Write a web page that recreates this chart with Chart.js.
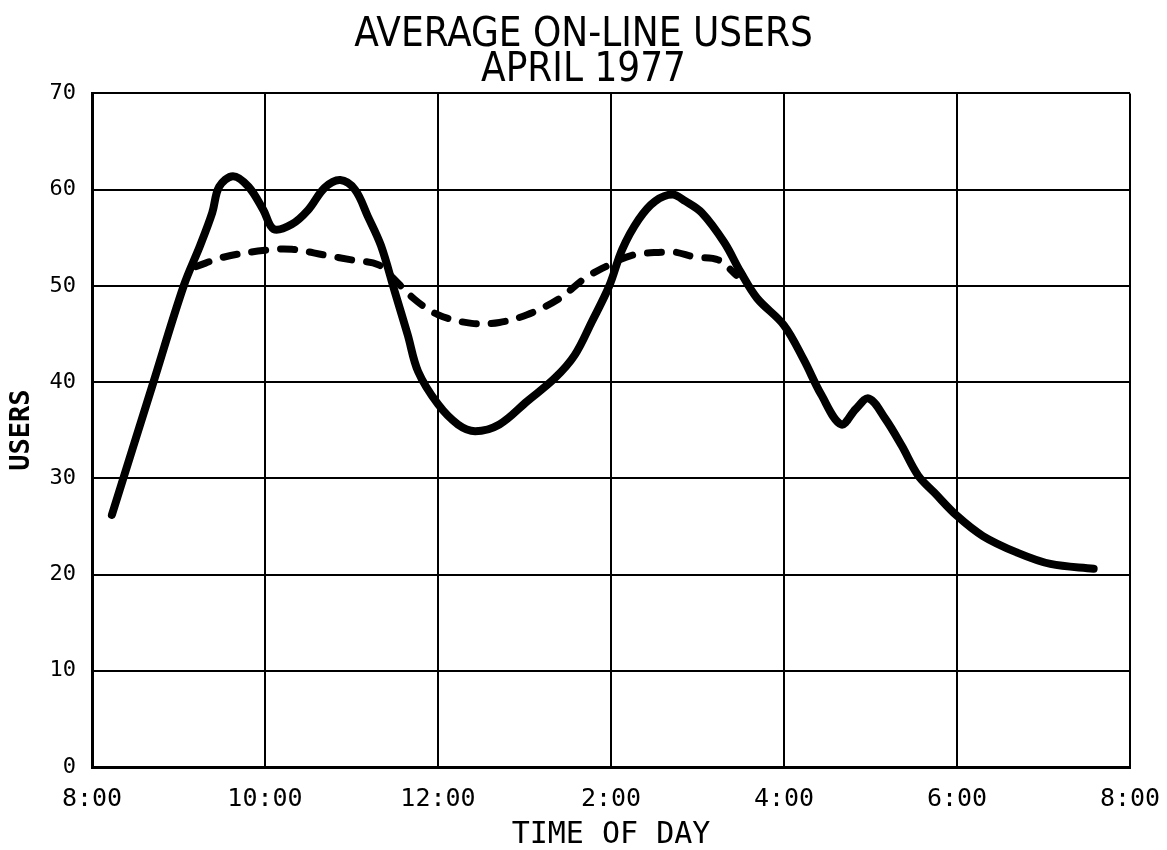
<!DOCTYPE html>
<html>
<head>
<meta charset="utf-8">
<title>Average On-Line Users</title>
<script src="https://cdn.jsdelivr.net/npm/chart.js@4.4.0/dist/chart.umd.min.js"></script>
<style>
  html, body { margin: 0; padding: 0; background: #fff; }
  #wrap { width: 1167px; height: 850px; }
</style>
</head>
<body>
<div id="wrap"><canvas id="grafico"></canvas></div>
<script>
// hours of the day, 8 = 8:00 am, 20 = 8:00 pm
const horasSolido = [8.23, 8.70, 9.06, 9.25, 9.39, 9.47, 9.63, 9.81, 9.98, 10.10, 10.31, 10.50, 10.69, 10.87, 11.04, 11.19, 11.34, 11.50, 11.65, 11.77, 12.0, 12.23, 12.43, 12.71, 13.03, 13.35, 13.58, 13.78, 13.98, 14.13, 14.32, 14.51, 14.71, 14.86, 15.05, 15.31, 15.50, 15.69, 16.0, 16.23, 16.43, 16.66, 16.83, 16.98, 17.17, 17.36, 17.55, 17.74, 18.0, 18.3, 18.69, 19.08, 19.58];
const usuariosSolido = [26.2, 39.7, 50.0, 54.2, 57.6, 60.3, 61.4, 60.3, 57.9, 55.9, 56.4, 57.9, 60.2, 61.0, 60.0, 57.2, 54.2, 49.4, 44.9, 41.1, 37.7, 35.6, 34.9, 35.6, 38.0, 40.4, 42.8, 46.3, 50.0, 53.8, 56.9, 58.8, 59.5, 58.8, 57.6, 54.5, 51.4, 48.7, 45.9, 42.3, 38.7, 35.6, 37.2, 38.3, 36.2, 33.4, 30.3, 28.5, 26.1, 24.0, 22.3, 21.1, 20.6];

const horasPunteado = [9.20, 9.53, 10.0, 10.31, 10.69, 11.0, 11.31, 11.46, 11.73, 12.0, 12.39, 12.71, 13.03, 13.39, 13.70, 13.94, 14.25, 14.59, 14.74, 14.97, 15.24, 15.45];
const usuariosPunteado = [52.0, 53.0, 53.7, 53.8, 53.2, 52.7, 52.2, 51.0, 48.6, 47.0, 46.1, 46.2, 47.0, 48.6, 50.8, 52.0, 53.2, 53.5, 53.5, 53.0, 52.7, 51.1];

const horasEje = [8, 10, 12, 14, 16, 18, 20];
const etiquetasEje = ['8:00', '10:00', '12:00', '2:00', '4:00', '6:00', '8:00'];
const ticksUsuarios = [0, 10, 20, 30, 40, 50, 60, 70];

function puntos(xs, ys) {
  return xs.map((x, i) => ({ x: x, y: ys[i] }));
}

const mono = '"DejaVu Sans Mono", monospace';

Chart.defaults.color = '#000';

// center the title on the whole page, not only on the plot
const tituloCentrado = {
  id: 'tituloCentrado',
  afterLayout(chart) {
    const t = chart.titleBlock;
    if (t) {
      t.left = 0;
      t.right = chart.width;
      t.width = chart.width;
    }
  }
};

const ctx = document.getElementById('grafico').getContext('2d');
const grafico = new Chart(ctx, {
  type: 'line',
  data: {
    datasets: [
      {
        label: 'usuarios',
        data: puntos(horasSolido, usuariosSolido),
        borderColor: '#000',
        borderWidth: 8,
        pointRadius: 0,
        tension: 0.35,
        borderCapStyle: 'round',
        borderJoinStyle: 'round'
      },
      {
        label: 'media',
        data: puntos(horasPunteado, usuariosPunteado),
        borderColor: '#000',
        borderWidth: 7,
        borderDash: [14, 15],
        borderCapStyle: 'round',
        pointRadius: 0,
        tension: 0.35
      }
    ]
  },
  plugins: [tituloCentrado],
  options: {
    responsive: true,
    maintainAspectRatio: false,
    animation: false,
    layout: { padding: { left: 0, right: 37, top: 0, bottom: 0 } },
    plugins: {
      legend: { display: false },
      tooltip: { enabled: false },
      title: {
        display: true,
        text: ['AVERAGE ON-LINE USERS', 'APRIL 1977'],
        color: '#000',
        font: { family: '"Liberation Sans Narrow", "DejaVu Sans Condensed", sans-serif', size: 40, weight: 'normal', lineHeight: 0.88 },
        padding: { top: 18, bottom: 5 }
      }
    },
    scales: {
      x: {
        type: 'linear',
        min: 8,
        max: 20,
        afterBuildTicks: (scale) => {
          scale.ticks = horasEje.map(v => ({ value: v }));
        },
        afterFit: (scale) => {
          scale.height = 83;
          scale.paddingLeft = 0;
          scale.paddingRight = 0;
        },
        ticks: {
          autoSkip: false,
          maxRotation: 0,
          padding: 17,
          font: { family: mono, size: 25 },
          callback: (value) => etiquetasEje[horasEje.indexOf(value)]
        },
        grid: { color: '#000', lineWidth: 2, drawTicks: false },
        border: { color: '#000', width: 3 },
        title: {
          display: true,
          text: 'TIME OF DAY',
          font: { family: mono, size: 30, lineHeight: 1 },
          padding: { top: 0, bottom: 0 }
        }
      },
      y: {
        min: 0,
        max: 70,
        afterBuildTicks: (scale) => {
          scale.ticks = ticksUsuarios.map(v => ({ value: v }));
        },
        afterFit: (scale) => { scale.width = 92; },
        ticks: {
          padding: 16,
          font: { family: mono, size: 22 }
        },
        grid: { color: '#000', lineWidth: 2, drawTicks: false },
        border: { color: '#000', width: 3 },
        title: {
          display: true,
          text: 'USERS',
          font: { family: mono, size: 27, weight: 'bold', lineHeight: 1 },
          padding: { top: 8, bottom: 0 }
        }
      }
    }
  }
});
</script>
</body>
</html>
